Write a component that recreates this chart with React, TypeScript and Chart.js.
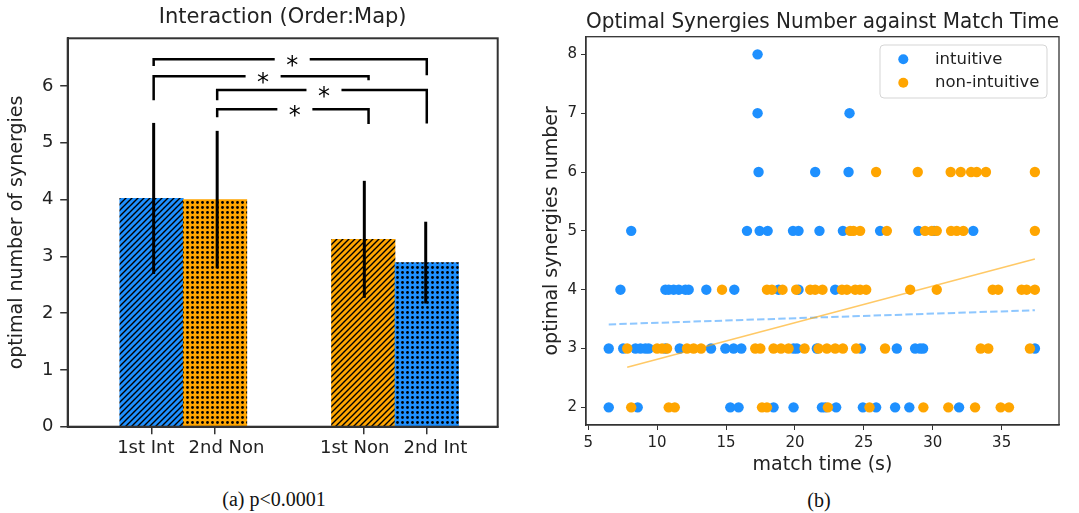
import React, { useEffect, useRef } from "react";
import { Chart, registerables } from "chart.js";

Chart.register(...registerables);

const FONT = "'DejaVu Sans', 'Noto Sans', sans-serif";
const SERIF = "'Liberation Serif', 'DejaVu Serif', serif";

// ---------- Panel (a): bar chart ----------
const barLabels = ["1st Int  ", "    2nd Non", "1st Non   ", "   2nd Int"];
const barPositions = [-0.15, 0.15, 0.85, 1.15];
const barMeans = [4.02, 4.0, 3.3, 2.89];
const barErrors = [1.33, 1.21, 1.03, 0.72];
const errorBarPositions = [-0.14, 0.16, 0.855, 1.145];
const barColors = ["#1E90FF", "#FFA500", "#FFA500", "#1E90FF"];
const barHatches = ["diagonal", "dots", "diagonal", "dots"];
const leftYTicks = [0, 1, 2, 3, 4, 5, 6];

const bracketFrom = [-0.14, -0.14, 0.16, 0.16];
const bracketTo = [1.15, 0.875, 1.15, 0.875];
const bracketTop = [6.47, 6.17, 5.93, 5.59];
const bracketLeftEnd = [6.35, 5.75, 5.75, 5.45];
const bracketRightEnd = [6.19, 6.1, 5.34, 5.33];
const bracketMarks = ["*", "*", "*", "*"];

// ---------- Panel (b): scatter ----------
const synergyLevels = [2, 3, 4, 5, 6, 7, 8];
const intuitiveAt2 = [6.49, 8.59, 15.31, 15.91, 18.45, 19.9, 21.96, 22.2, 22.99, 24.93, 25.89, 27.27, 28.3, 31.91];
const intuitiveAt3 = [6.49, 7.54, 8.43, 8.79, 9.15, 9.39, 10.6, 11.64, 13.91, 14.95, 15.55, 16.11, 19.9, 20.14, 21.59, 24.78, 27.39, 28.72, 29.08, 29.3, 37.41];
const intuitiveAt4 = [7.34, 10.6, 10.84, 11.2, 11.57, 12.05, 12.29, 13.57, 15.6, 18.81, 20.26, 22.92];
const intuitiveAt5 = [8.12, 16.52, 17.44, 18.02, 19.86, 20.26, 21.78, 23.48, 26.18, 28.96, 30.1, 32.94];
const intuitiveAt6 = [17.36, 21.47, 23.89];
const intuitiveAt7 = [17.29, 23.96];
const intuitiveAt8 = [17.29];

const nonIntuitiveAt2 = [8.12, 10.84, 11.28, 17.61, 17.97, 22.39, 25.41, 29.32, 31.13, 33.07, 34.93, 35.53];
const nonIntuitiveAt3 = [7.83, 10.0, 10.36, 10.72, 12.17, 12.65, 13.19, 17.12, 17.49, 18.45, 18.99, 19.54, 20.7, 21.71, 22.32, 22.92, 23.48, 24.44, 26.54, 33.48, 34.03, 37.05];
const nonIntuitiveAt4 = [14.71, 17.97, 18.33, 19.1, 20.09, 21.11, 21.47, 22.0, 23.41, 23.77, 24.37, 24.73, 25.17, 28.36, 30.29, 34.35, 34.75, 36.45, 36.81, 37.41];
const nonIntuitiveAt5 = [24.01, 24.25, 24.73, 26.67, 29.44, 29.93, 30.29, 31.33, 31.74, 32.22, 37.41];
const nonIntuitiveAt6 = [25.89, 28.91, 31.3, 32.03, 32.78, 33.19, 33.86, 37.41];
const nonIntuitiveAt7: number[] = [];
const nonIntuitiveAt8: number[] = [];

const intuitiveFitX = [6.49, 37.41];
const intuitiveFitY = [3.41, 3.65];
const nonIntuitiveFitX = [7.83, 37.41];
const nonIntuitiveFitY = [2.68, 4.52];

const rightXTicks = [5, 10, 15, 20, 25, 30, 35];
const rightYTicks = [2, 3, 4, 5, 6, 7, 8];
const seriesLabels = ["intuitive", "non-intuitive"];
const seriesColors = ["#1E90FF", "#FFA500"];

function toPoints(rows: number[][]) {
  const pts: { x: number; y: number }[] = [];
  rows.forEach((row, i) => row.forEach((t) => pts.push({ x: t, y: synergyLevels[i] })));
  return pts;
}

function makePattern(kind: string, color: string) {
  const c = document.createElement("canvas");
  const s = kind === "diagonal" ? 6 : 5;
  c.width = s;
  c.height = s;
  const g = c.getContext("2d")!;
  g.fillStyle = color;
  g.fillRect(0, 0, s, s);
  g.fillStyle = "#000";
  g.strokeStyle = "#000";
  if (kind === "diagonal") {
    g.lineWidth = 1.4;
    g.beginPath();
    g.moveTo(-1, s + 1);
    g.lineTo(s + 1, -1);
    g.moveTo(-1, 1);
    g.lineTo(1, -1);
    g.moveTo(s - 1, s + 1);
    g.lineTo(s + 1, s - 1);
    g.stroke();
  } else {
    g.beginPath();
    g.arc(s / 2, s / 2, 1.4, 0, Math.PI * 2);
    g.fill();
  }
  return g.createPattern(c, "repeat")!;
}

const boxPlugin = (lw: number) => ({
  id: "box",
  afterDraw(chart: any) {
    const { ctx, chartArea: a } = chart;
    ctx.save();
    ctx.strokeStyle = "#333";
    ctx.lineWidth = lw;
    ctx.strokeRect(a.left, a.top, a.right - a.left, a.bottom - a.top);
    ctx.restore();
  },
});

const errorBarPlugin = {
  id: "errorBars",
  afterDatasetsDraw(chart: any) {
    const { ctx, scales } = chart;
    ctx.save();
    ctx.strokeStyle = "#000";
    ctx.lineWidth = 3;
    barMeans.forEach((m, i) => {
      const x = scales.x.getPixelForValue(errorBarPositions[i]);
      ctx.beginPath();
      ctx.moveTo(x, scales.y.getPixelForValue(m - barErrors[i]));
      ctx.lineTo(x, scales.y.getPixelForValue(m + barErrors[i]));
      ctx.stroke();
    });
    ctx.restore();
  },
};

const bracketPlugin = {
  id: "brackets",
  afterDatasetsDraw(chart: any) {
    const { ctx, scales } = chart;
    ctx.save();
    ctx.strokeStyle = "#000";
    ctx.fillStyle = "#000";
    ctx.lineWidth = 2.5;
    ctx.lineJoin = "miter";
    ctx.font = `24px ${FONT}`;
    ctx.textAlign = "center";
    ctx.textBaseline = "alphabetic";
    bracketFrom.forEach((f, i) => {
      const x1 = scales.x.getPixelForValue(f);
      const x2 = scales.x.getPixelForValue(bracketTo[i]);
      const yt = scales.y.getPixelForValue(bracketTop[i]);
      const yl = scales.y.getPixelForValue(bracketLeftEnd[i]);
      const yr = scales.y.getPixelForValue(bracketRightEnd[i]);
      const cx = (x1 + x2) / 2 + 2;
      const gap = 17.5;
      ctx.beginPath();
      ctx.moveTo(x1, yl);
      ctx.lineTo(x1, yt);
      ctx.lineTo(cx - gap, yt);
      ctx.moveTo(cx + gap, yt);
      ctx.lineTo(x2, yt);
      ctx.lineTo(x2, yr);
      ctx.stroke();
      ctx.fillText(bracketMarks[i], cx, yt + 14);
    });
    ctx.restore();
  },
};

const legendPlugin = {
  id: "innerLegend",
  afterDraw(chart: any) {
    const { ctx, chartArea: a } = chart;
    const w = 167;
    const h = 53;
    const x0 = a.right - 12 - w;
    const y0 = a.top + 8.3;
    ctx.save();
    ctx.beginPath();
    if (ctx.roundRect) ctx.roundRect(x0, y0, w, h, 4);
    else ctx.rect(x0, y0, w, h);
    ctx.fillStyle = "rgba(255,255,255,0.8)";
    ctx.fill();
    ctx.strokeStyle = "#d5d5d5";
    ctx.lineWidth = 1;
    ctx.stroke();
    ctx.font = `16.5px ${FONT}`;
    ctx.textBaseline = "middle";
    ctx.textAlign = "left";
    seriesLabels.forEach((lab, i) => {
      const y = y0 + 14.3 + i * 23.4;
      ctx.beginPath();
      ctx.arc(x0 + 23.3, y, 5, 0, Math.PI * 2);
      ctx.fillStyle = seriesColors[i];
      ctx.fill();
      ctx.fillStyle = "#222";
      ctx.fillText(lab, x0 + 55, y);
    });
    ctx.restore();
  },
};

function leftConfig(): any {
  const patterns = barColors.map((c, i) => makePattern(barHatches[i], c));
  return {
    type: "bar",
    data: {
      datasets: [
        {
          data: barPositions.map((x, i) => ({ x, y: barMeans[i] })),
          backgroundColor: patterns,
          borderWidth: 0,
          barPercentage: 1,
          categoryPercentage: 1,
        },
      ],
    },
    options: {
      animation: false,
      responsive: false,
      events: [],
      layout: { padding: { left: 0, right: 12.3, top: 0, bottom: 0 } },
      plugins: {
        legend: { display: false },
        tooltip: { enabled: false },
        title: {
          display: true,
          text: "Interaction (Order:Map)",
          fullSize: false,
          color: "#222",
          font: { family: FONT, size: 21, weight: "normal" },
          padding: { top: 4.6, bottom: 8.5 },
        },
      },
      scales: {
        x: {
          type: "linear",
          min: -0.546,
          max: 1.485,
          offset: false,
          grid: { offset: false, drawOnChartArea: false, drawTicks: true, tickLength: 7.5, color: "#333", lineWidth: 1.5 },
          border: { display: true, color: "#333", width: 2 },
          ticks: {
            autoSkip: false,
            maxRotation: 0,
            padding: 3.8,
            color: "#222",
            font: { family: FONT, size: 18 },
            callback: (_v: any, i: number) => barLabels[i],
          },
          afterBuildTicks: (s: any) => {
            s.ticks = barPositions.map((v) => ({ value: v }));
          },
          afterFit: (s: any) => {
            s.height = 53.3;
          },
        },
        y: {
          min: 0,
          max: 6.84,
          grid: { drawOnChartArea: false, drawTicks: true, tickLength: 7.5, color: "#333", lineWidth: 1.5 },
          border: { display: true, color: "#333", width: 2 },
          ticks: { padding: 6.7, color: "#222", font: { family: FONT, size: 18 } },
          afterBuildTicks: (s: any) => {
            s.ticks = leftYTicks.map((v) => ({ value: v }));
          },
          afterFit: (s: any) => {
            s.width = 67.7;
          },
          title: {
            display: true,
            text: "optimal number of synergies",
            color: "#222",
            font: { family: FONT, size: 19 },
            padding: { top: 6, bottom: 0 },
          },
        },
      },
    },
    plugins: [errorBarPlugin, bracketPlugin, boxPlugin(2)],
  };
}

function rightConfig(): any {
  const intuitive = toPoints([intuitiveAt2, intuitiveAt3, intuitiveAt4, intuitiveAt5, intuitiveAt6, intuitiveAt7, intuitiveAt8]);
  const nonIntuitive = toPoints([nonIntuitiveAt2, nonIntuitiveAt3, nonIntuitiveAt4, nonIntuitiveAt5, nonIntuitiveAt6, nonIntuitiveAt7, nonIntuitiveAt8]);
  return {
    type: "scatter",
    data: {
      datasets: [
        { label: seriesLabels[0], data: intuitive, backgroundColor: seriesColors[0], pointBorderWidth: 0, pointRadius: 5.2, pointHoverRadius: 5.2, order: 4 },
        { label: seriesLabels[1], data: nonIntuitive, backgroundColor: seriesColors[1], pointBorderWidth: 0, pointRadius: 5.2, pointHoverRadius: 5.2, order: 3 },
        {
          type: "line",
          label: "intuitive fit",
          data: intuitiveFitX.map((x, i) => ({ x, y: intuitiveFitY[i] })),
          borderColor: "rgba(30,144,255,0.5)",
          borderWidth: 2,
          borderDash: [7.4, 3.2],
          pointRadius: 0,
          fill: false,
          tension: 0,
          order: 2,
        },
        {
          type: "line",
          label: "non-intuitive fit",
          data: nonIntuitiveFitX.map((x, i) => ({ x, y: nonIntuitiveFitY[i] })),
          borderColor: "rgba(255,165,0,0.6)",
          borderWidth: 1.6,
          pointRadius: 0,
          fill: false,
          tension: 0,
          order: 1,
        },
      ],
    },
    options: {
      animation: false,
      responsive: false,
      events: [],
      layout: { padding: { left: 0, right: 20, top: 0, bottom: 0 } },
      plugins: {
        legend: { display: false },
        tooltip: { enabled: false },
        title: {
          display: true,
          text: "Optimal Synergies Number against Match Time",
          fullSize: false,
          color: "#222",
          font: { family: FONT, size: 21, weight: "normal" },
          padding: { top: 9.9, bottom: 1.6 },
        },
      },
      scales: {
        x: {
          type: "linear",
          min: 4.84,
          max: 39.16,
          grid: { drawOnChartArea: false, drawTicks: true, tickLength: 5, color: "#333", lineWidth: 1 },
          border: { display: true, color: "#333", width: 1.3 },
          ticks: { padding: 4, color: "#222", font: { family: FONT, size: 15 }, maxRotation: 0, autoSkip: false },
          afterBuildTicks: (s: any) => {
            s.ticks = rightXTicks.map((v) => ({ value: v }));
          },
          afterFit: (s: any) => {
            s.height = 55;
          },
          title: {
            display: true,
            text: "match time (s)",
            color: "#222",
            font: { family: FONT, size: 19 },
            padding: { top: 0, bottom: 3.6 },
          },
        },
        y: {
          min: 1.7,
          max: 8.3,
          grid: { drawOnChartArea: false, drawTicks: true, tickLength: 5, color: "#333", lineWidth: 1 },
          border: { display: true, color: "#333", width: 1.3 },
          ticks: { padding: 4, color: "#222", font: { family: FONT, size: 15 } },
          afterBuildTicks: (s: any) => {
            s.ticks = rightYTicks.map((v) => ({ value: v }));
          },
          afterFit: (s: any) => {
            s.width = 66;
          },
          title: {
            display: true,
            text: "optimal synergies number",
            color: "#222",
            font: { family: FONT, size: 19 },
            padding: { top: 20.6, bottom: 0 },
          },
        },
      },
    },
    plugins: [legendPlugin, boxPlugin(1.3)],
  };
}

const captionStyle = (cx: number, cy: number): React.CSSProperties => ({
  position: "absolute",
  left: cx - 150,
  top: cy - 12,
  width: 300,
  height: 24,
  lineHeight: "24px",
  textAlign: "center",
  fontFamily: SERIF,
  fontSize: 20,
  color: "#111",
  whiteSpace: "nowrap",
});

export default function App() {
  const leftRef = useRef<HTMLCanvasElement>(null);
  const rightRef = useRef<HTMLCanvasElement>(null);

  useEffect(() => {
    const left = new Chart(leftRef.current!, leftConfig());
    const right = new Chart(rightRef.current!, rightConfig());
    return () => {
      left.destroy();
      right.destroy();
    };
  }, []);

  return (
    <div style={{ position: "fixed", left: 0, top: 0, width: 1079, height: 513, background: "#fff", overflow: "hidden" }}>
      <canvas ref={leftRef} width={510} height={480} style={{ position: "absolute", left: 0, top: 0, width: 510, height: 480 }} />
      <canvas ref={rightRef} width={559} height={480} style={{ position: "absolute", left: 520, top: 0, width: 559, height: 480 }} />
      <div style={captionStyle(274, 499)}>{"(a) p<0.0001"}</div>
      <div style={captionStyle(819, 500)}>{"(b)"}</div>
    </div>
  );
}
